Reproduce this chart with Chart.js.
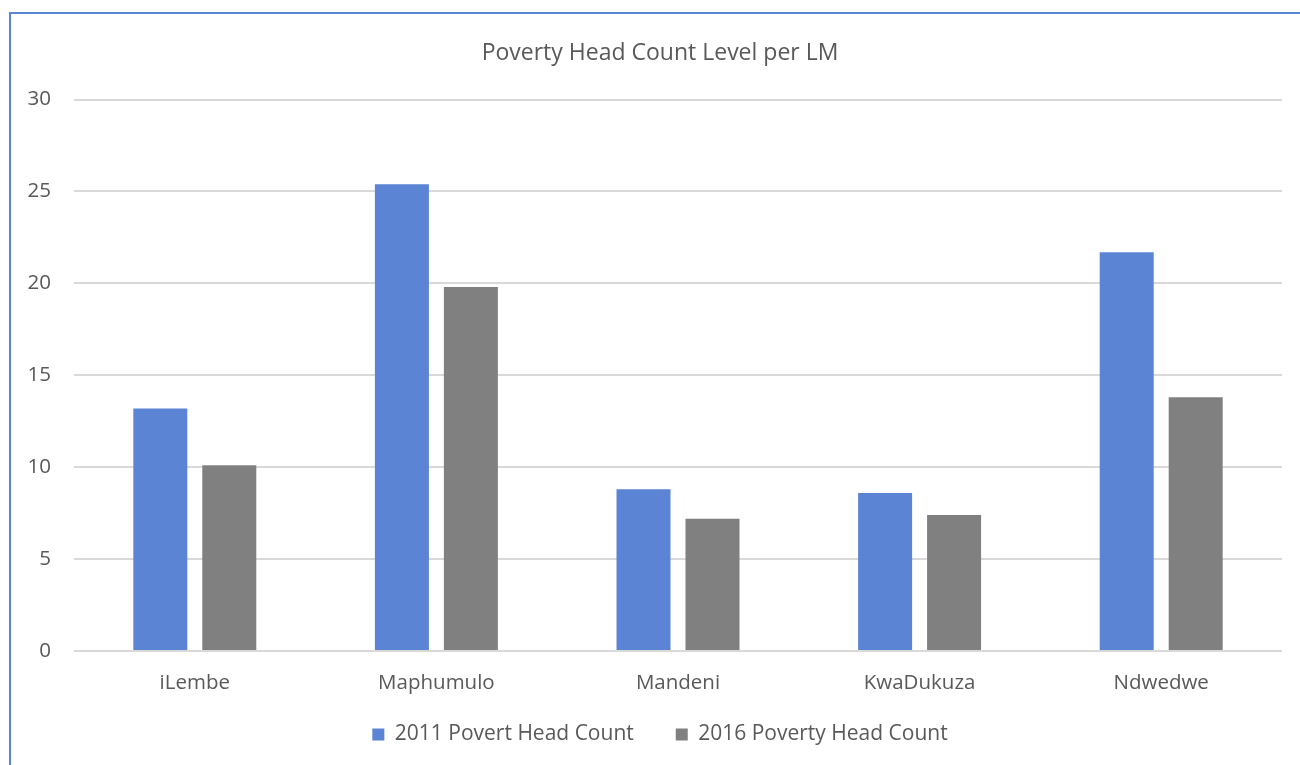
<!DOCTYPE html>
<html>
<head>
<meta charset="utf-8">
<script src="https://cdn.jsdelivr.net/npm/chart.js@4"></script>
<style>
  html, body { margin: 0; padding: 0; background: #fff; }
  body { width: 1300px; height: 765px; position: relative; overflow: hidden; }
  #frame {
    position: absolute; left: 9px; top: 12px; width: 1400px; height: 900px;
    border-left: 2px solid #5b84d4; border-top: 2px solid #5b84d4;
  }
  #wrap { position: absolute; left: 0; top: 0; width: 1300px; height: 765px; }
</style>
</head>
<body>
<div id="frame"></div>
<div id="wrap"><canvas id="povertyChart"></canvas></div>
<script>
const municipalities = ['iLembe', 'Maphumulo', 'Mandeni', 'KwaDukuza', 'Ndwedwe'];
const count2011 = [13.2, 25.4, 8.8, 8.6, 21.7];
const count2016 = [10.1, 19.8, 7.2, 7.4, 13.8];
const yTicks = [0, 5, 10, 15, 20, 25, 30];

const textColor = '#595959';
const fontFamily = '"Open Sans", "Noto Sans", sans-serif';

const ctx = document.getElementById('povertyChart').getContext('2d');
const povertyChart = new Chart(ctx, {
  type: 'bar',
  data: {
    labels: municipalities,
    datasets: [{
      label: '2011 Povert Head Count',
      data: count2011,
      backgroundColor: '#5b84d4',
      barPercentage: 0.783,
      categoryPercentage: 0.571
    }, {
      label: '2016 Poverty Head Count',
      data: count2016,
      backgroundColor: '#808080',
      barPercentage: 0.783,
      categoryPercentage: 0.571
    }]
  },
  options: {
    responsive: true,
    maintainAspectRatio: false,
    animation: false,
    layout: { padding: { left: 38, right: 18, top: 0, bottom: 10 } },
    plugins: {
      title: {
        display: true,
        text: 'Poverty Head Count Level per LM',
        color: textColor,
        font: { family: fontFamily, size: 23, weight: 'normal' },
        padding: { top: 40, bottom: 32 }
      },
      legend: {
        position: 'bottom',
        labels: {
          color: textColor,
          font: { family: fontFamily, size: 21 },
          boxWidth: 12,
          boxHeight: 12,
          padding: 42
        }
      },
      tooltip: { enabled: false }
    },
    scales: {
      x: {
        // keep the axis box short so the legend sits close; labels may overflow it
        afterFit: scale => {
          scale.height = 31;
          scale._computeLabelArea = () => undefined;
        },
        grid: { display: false, drawTicks: false },
        border: { display: false },
        ticks: { color: textColor, font: { family: fontFamily, size: 20.5 }, padding: 20 }
      },
      y: {
        min: 0,
        max: 30,
        afterFit: scale => {
          scale.width = 36;
          scale._computeLabelArea = () => undefined;
        },
        afterBuildTicks: scale => { scale.ticks = yTicks.map(v => ({ value: v })); },
        grid: { color: '#d9d9d9', lineWidth: 2, drawTicks: false },
        border: { display: false },
        ticks: { color: textColor, font: { family: fontFamily, size: 20.5 }, padding: 23 }
      }
    }
  }
});
</script>
</body>
</html>
